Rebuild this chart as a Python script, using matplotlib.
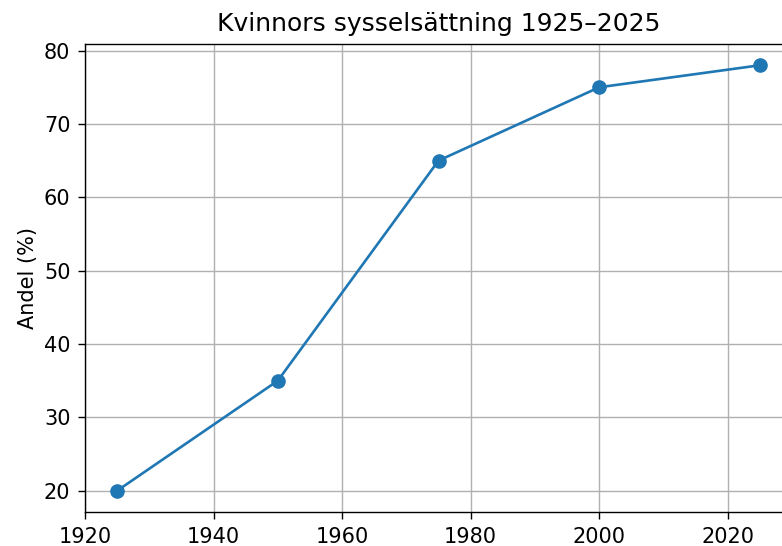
import matplotlib
matplotlib.use("Agg")
import matplotlib.pyplot as plt

years = [1925, 1950, 1975, 2000, 2025]
share = [20, 35, 65, 75, 78]
title = "Kvinnors sysselsättning 1925–2025"
ylabel = "Andel (%)"

s = 1.5
plt.rcParams.update({
    "font.size": 15,
    "axes.linewidth": 1.0,
    "xtick.major.width": 1.0,
    "ytick.major.width": 1.0,
    "xtick.major.size": 3.5 * s,
    "ytick.major.size": 3.5 * s,
    "xtick.major.pad": 3.5 * s,
    "ytick.major.pad": 3.5 * s,
})

fig = plt.figure(figsize=(7.82, 5.46), dpi=100)
ax = fig.add_axes([85 / 782, 1 - 512 / 546, (792 - 85) / 782, (512 - 44) / 546])
ax.plot(years, share, marker="o", color="#1f77b4", linewidth=1.9, markersize=9.5)
ax.set_xlim(1920, 2030)
ax.set_ylim(17.1, 80.9)
ax.grid(True, linewidth=1.0, color="#b0b0b0")
ax.set_title(title, fontsize=18, pad=6 * s)
ax.set_ylabel(ylabel, fontsize=15)
fig.savefig("out.png", dpi=100)
